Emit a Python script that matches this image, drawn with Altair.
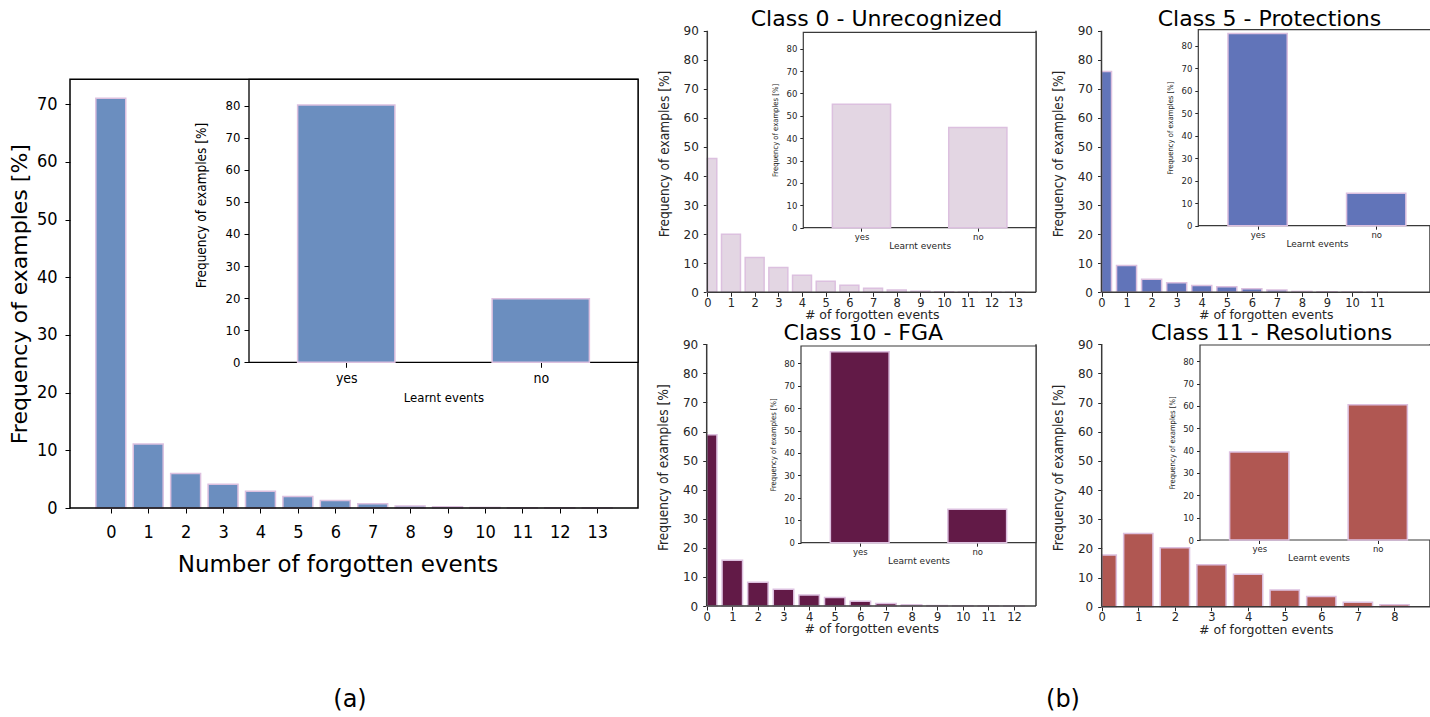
import altair as alt
import pandas as pd

W, H = 1430, 717

# ---------------- data ----------------
forgotten_all = [71.0, 11.1, 6.0, 4.1, 2.9, 2.0, 1.3, 0.75, 0.35, 0.2, 0.1, 0.06, 0.04, 0.02]
learnt_all = [80.2, 19.8]

forgotten_c0 = [46.0, 20.0, 12.0, 8.5, 5.9, 3.8, 2.4, 1.4, 0.8, 0.35, 0.2, 0.1, 0.06, 0.03]
learnt_c0 = [55.2, 44.8]

forgotten_c5 = [76.0, 9.2, 4.5, 3.3, 2.3, 1.9, 1.2, 0.8, 0.3, 0.2, 0.1, 0.05]
learnt_c5 = [85.6, 14.4]

forgotten_c10 = [58.9, 15.7, 8.2, 5.8, 3.8, 2.9, 1.6, 0.9, 0.4, 0.15, 0.1, 0.05, 0.03]
learnt_c10 = [85.1, 14.9]

forgotten_c11 = [17.7, 25.1, 20.2, 14.4, 11.1, 5.7, 3.5, 1.5, 0.7]
learnt_c11 = [39.4, 60.6]

learnt_labels = ["yes", "no"]
panel_titles = ["Class 0 - Unrecognized", "Class 5 - Protections",
                "Class 10 - FGA", "Class 11 - Resolutions"]
subfig_labels = ["(a)", "(b)"]
y_title = "Frequency of examples [%]"
x_title_a = "Number of forgotten events"
x_title_b = "# of forgotten events"
inset_x_title = "Learnt events"

# ---------------- styles ----------------
SANS = "DejaVu Sans"
COND = "DejaVu Sans Condensed"
EDGE = "#dcc0df"

LABEL_EXPR = "[" + ",".join("'%s'" % s for s in learnt_labels) + "][datum.value]"


def axis_x(y_pix, values, title, lfont, lsize, tfont, tsize, tick, lpad, tpad,
           color, expr=None, title_xy=None):
    kw = dict(orient="bottom", offset=y_pix - H, values=values, title=title,
              labelFont=lfont, labelFontSize=lsize, labelColor=color,
              titleFont=tfont, titleFontSize=tsize, titleFontWeight="normal",
              titleColor=color, tickSize=tick, tickColor=color, tickWidth=1,
              labelPadding=lpad, titlePadding=tpad, domain=False, grid=False,
              labelFlush=False, labelOverlap=False, labelAngle=0)
    if expr:
        kw["labelExpr"] = expr
    if title_xy:
        kw["titleX"], kw["titleY"] = title_xy
    return alt.Axis(**kw)


def axis_y(x_pix, values, title, lfont, lsize, tfont, tsize, tick, lpad, tpad,
           color, title_xy=None):
    kw = dict(orient="left", offset=-x_pix, values=values, title=title,
              labelFont=lfont, labelFontSize=lsize, labelColor=color,
              titleFont=tfont, titleFontSize=tsize,
              titleFontWeight="normal", titleColor=color,
              tickSize=tick, tickColor=color, tickWidth=1,
              labelPadding=lpad, titlePadding=tpad, domain=False,
              grid=False, labelOverlap=False)
    if title_xy:
        kw["titleX"], kw["titleY"] = title_xy
    return alt.Axis(**kw)


def bars(vals, halfw, color, xr, xd, yr, yd, xaxis, yaxis):
    xs = alt.Scale(domain=xd, range=xr, nice=False, zero=False, clamp=True)
    ys = alt.Scale(domain=yd, range=yr, nice=False, zero=False)
    df = pd.DataFrame({"k": list(range(len(vals))), "v": vals})
    return alt.Chart(df).transform_calculate(
        xa="datum.k - %f" % halfw, xb="datum.k + %f" % halfw
    ).mark_rect(fill=color, stroke=EDGE, strokeWidth=1.5).encode(
        x=alt.X("xa:Q", scale=xs, axis=xaxis),
        x2="xb:Q",
        y=alt.Y("v:Q", scale=ys, axis=yaxis),
        y2=alt.datum(0),
    )


def box(xr, yr, stroke, sw, filled):
    kw = dict(fill="white", stroke=stroke, strokeWidth=sw)
    if not filled:
        kw["fillOpacity"] = 0
    return alt.Chart(pd.DataFrame({"d": [0]})).mark_rect(**kw).encode(
        x=alt.value(xr[0]), x2=alt.value(xr[1]),
        y=alt.value(yr[1]), y2=alt.value(yr[0]))


def spine(x0, x1, y0, y1, color, sw):
    return alt.Chart(pd.DataFrame({"d": [0]})).mark_rule(
        color=color, strokeWidth=sw
    ).encode(x=alt.value(x0), x2=alt.value(x1), y=alt.value(y0), y2=alt.value(y1))


def text(label, x, y, font, size, baseline="alphabetic", color="black"):
    return alt.Chart(pd.DataFrame({"t": [label]})).mark_text(
        font=font, fontSize=size, align="center", baseline=baseline, color=color
    ).encode(x=alt.value(x), y=alt.value(y), text="t:N")


layers = []

# ---------------- (a) ----------------
A_BLUE = "#6b8ebf"
a_xr, a_yr = [70, 638], [508, 79.3]
layers.append(bars(
    forgotten_all, 0.4, A_BLUE, a_xr, [-1.09, 14.09], a_yr, [0, 74.3],
    axis_x(508, list(range(len(forgotten_all))), x_title_a, COND, 18, SANS, 23,
           5, 10, 12, "black", title_xy=(337.5, 45.5)),
    axis_y(70, list(range(0, 71, 10)), y_title, COND, 18, SANS, 22, 5, 8, 5,
           "black")))
layers.append(box(a_xr, a_yr, "black", 1.5, False))
ai_xr, ai_yr = [249, 638], [362.3, 79.3]
layers.append(box(ai_xr, ai_yr, "black", 1.3, True))
layers.append(bars(
    learnt_all, 0.25, A_BLUE, ai_xr, [-0.5, 1.5], ai_yr, [0, 88.2],
    axis_x(362.3, [0, 1], inset_x_title, COND, 14, COND, 13, 5, 4, 6, "black",
           LABEL_EXPR),
    axis_y(249, list(range(0, 81, 10)), y_title, COND, 13, COND, 13.5, 5, 4, 17,
           "black", title_xy=(-41, 205))))

# ---------------- (b) ----------------
GRAY = "#262626"
SPINE = "#3a3a3a"
b_specs = [
    # vals, learnt, color, main xr, xd, yr, inset xr, inset yr, inset ymax
    (forgotten_c0, learnt_c0, "#e3d6e3", [707.3, 1036], [0, 13.88], [292.3, 30.7],
     [803.3, 1036], [227.7, 32.3], 87.3),
    (forgotten_c5, learnt_c5, "#6174b9", [1101.5, 1430], [0, 13.11], [292.3, 30.7],
     [1198.3, 1435.5], [225.7, 29.6], 87.3),
    (forgotten_c10, learnt_c10, "#621a47", [706.7, 1036], [0, 12.86], [606, 344.3],
     [801, 1036], [542.7, 346], 87.7),
    (forgotten_c11, learnt_c11, "#b05752", [1101.7, 1430], [0, 8.97], [606.7, 344.3],
     [1200, 1437], [540, 345], 87.3),
]
for vals, learnt, col, xr, xd, yr, ixr, iyr, iymax in b_specs:
    ymid = (yr[0] + yr[1]) / 2 - 8
    layers.append(bars(
        vals, 0.4, col, xr, xd, yr, [0, 90],
        axis_x(yr[0], list(range(len(vals))), x_title_b, SANS, 11.5, SANS, 12.5,
               4, 1, 0, GRAY),
        axis_y(xr[0], list(range(0, 91, 10)), y_title, SANS, 12, COND, 13.6,
               4, 5, 12, GRAY, title_xy=(-36, ymid))))
    # left, bottom and right spines
    layers.append(spine(xr[0], xr[0], yr[1], yr[0], SPINE, 1.5))
    layers.append(spine(xr[0], xr[1], yr[0], yr[0], SPINE, 1.5))
    layers.append(spine(xr[1], xr[1], yr[1], yr[0], SPINE, 1.5))
    layers.append(box(ixr, iyr, SPINE, 1.2, True))
    layers.append(bars(
        learnt, 0.25, col, ixr, [-0.5, 1.5], iyr, [0, iymax],
        axis_x(iyr[0], [0, 1], inset_x_title, SANS, 8.5, SANS, 9, 3.5, 1, 0.5,
               GRAY, LABEL_EXPR),
        axis_y(ixr[0], list(range(0, 81, 10)), y_title, SANS, 8.5, COND, 7.6,
               3.5, 3, 6, GRAY)))

# titles
title_pos = [(876.5, 25.5), (1269.5, 25.5), (863.3, 340), (1271.5, 340)]
for t, (x, y) in zip(panel_titles, title_pos):
    layers.append(text(t, x, y, SANS, 22))

layers.append(text(subfig_labels[0], 350, 700, SANS, 24, baseline="middle"))
layers.append(text(subfig_labels[1], 1063, 700, SANS, 24, baseline="middle"))

chart = alt.layer(*layers).resolve_scale(
    x="independent", y="independent"
).properties(
    width=W, height=H, padding=0,
    autosize=alt.AutoSizeParams(type="none"), background="white"
).configure_view(strokeWidth=0)

chart.save("out.html", embed_options={"renderer": "svg", "actions": False})
